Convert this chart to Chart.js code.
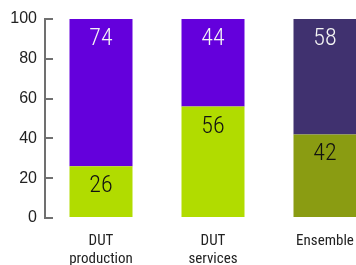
<!DOCTYPE html>
<html>
<head>
<meta charset="utf-8">
<script src="https://cdn.jsdelivr.net/npm/chart.js@4/dist/chart.umd.min.js"></script>
<style>
html,body{margin:0;padding:0;overflow:hidden;background:#fff;width:356px;height:265px;}
canvas{display:block;}
</style>
</head>
<body>
<canvas id="c" width="381" height="265"></canvas>
<script>
const categories = [["DUT","production"], ["DUT","services"], "Ensemble"];
const lowerValues = [26, 56, 42];
const upperValues = [74, 44, 58];
const yTicks = [0, 20, 40, 60, 80, 100];

const lowerColors = ["#b1dc00", "#b1dc00", "#8a9c12"];
const upperColors = ["#6400dc", "#6400dc", "#40316f"];
const labelColors = ["#111111", "#f4f4f4"];
const NARROW = '"Roboto Condensed", "Liberation Sans Narrow", "Arial Narrow", sans-serif';

const valueLabels = {
  id: 'valueLabels',
  afterDatasetsDraw(chart) {
    const ctx = chart.ctx;
    ctx.save();
    ctx.font = '300 24px ' + NARROW;
    ctx.textAlign = 'center';
    ctx.textBaseline = 'middle';
    chart.data.datasets.forEach((ds, di) => {
      const meta = chart.getDatasetMeta(di);
      ctx.fillStyle = labelColors[di];
      meta.data.forEach((bar, i) => {
        ctx.fillText(String(ds.data[i]), bar.x, bar.y + 20);
      });
    });
    ctx.restore();
  }
};

new Chart(document.getElementById('c'), {
  type: 'bar',
  data: {
    labels: categories,
    datasets: [
      { data: lowerValues, backgroundColor: lowerColors, borderWidth: 0 },
      { data: upperValues, backgroundColor: upperColors, borderWidth: 0 }
    ]
  },
  options: {
    responsive: false,
    animation: false,
    devicePixelRatio: 1,
    layout: { padding: { top: 19, right: 0, bottom: 0, left: 0 } },
    plugins: { legend: { display: false }, tooltip: { enabled: false } },
    datasets: { bar: { categoryPercentage: 1, barPercentage: 0.5625 } },
    scales: {
      x: {
        stacked: true,
        grid: { display: false, drawTicks: false },
        border: { display: false },
        ticks: { color: '#222', font: { family: NARROW, size: 15, lineHeight: 1.2 }, padding: 14, maxRotation: 0 },
        afterFit(s) { s.height = 47; s.paddingLeft = 0; s.paddingRight = 0; }
      },
      y: {
        stacked: true,
        min: 0, max: 100,
        afterBuildTicks(s) { s.ticks = yTicks.map(v => ({ value: v })); },
        grid: { drawOnChartArea: false, drawTicks: true, tickLength: -8, color: '#707070', lineWidth: 2 },
        border: { display: true, color: '#707070', width: 2 },
        ticks: { color: '#222', font: { family: 'Liberation Sans, Arial, sans-serif', size: 16 }, padding: 16 },
        afterFit(s) { s.width = 45; s.paddingTop = 0; s.paddingBottom = 0; }
      }
    }
  },
  plugins: [valueLabels]
});
</script>
</body>
</html>
